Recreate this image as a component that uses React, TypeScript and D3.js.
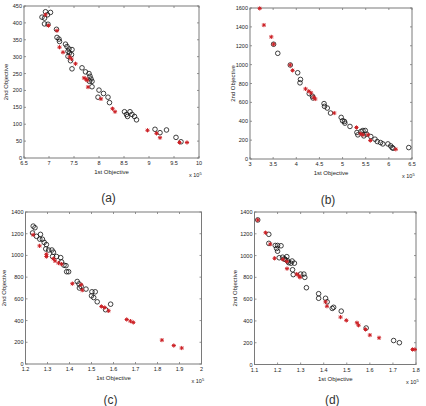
import React from "react";
import * as d3 from "d3";

// ---------- data ----------
const aCircles: [number, number][] = [
  [6.93, 433], [7.03, 431], [6.86, 417], [6.91, 414], [6.97, 424], [6.91, 397], [6.98, 396],
  [7.15, 381], [7.16, 357], [7.2, 352], [7.21, 345], [7.33, 337], [7.36, 330], [7.4, 323],
  [7.46, 321], [7.38, 316], [7.41, 311], [7.45, 306], [7.38, 301], [7.43, 288], [7.46, 264],
  [7.66, 267], [7.73, 255], [7.8, 250], [7.82, 242], [7.84, 234], [7.81, 227], [7.86, 227],
  [7.86, 211], [8.0, 201], [8.09, 191], [7.98, 180], [8.18, 180], [8.21, 164], [8.51, 137],
  [8.55, 129], [8.57, 123], [8.62, 137], [8.66, 129], [8.71, 123], [8.75, 113], [9.12, 85],
  [9.22, 75], [9.35, 83], [9.54, 61], [9.64, 48],
];
const aStars: [number, number][] = [
  [6.93, 424], [6.99, 392], [7.16, 377], [7.21, 328], [7.28, 313], [7.41, 299], [7.45, 293],
  [7.53, 279], [7.7, 237], [7.74, 234], [7.76, 230], [7.78, 210], [8.04, 175], [8.27, 146],
  [8.32, 137], [8.97, 82], [9.15, 73], [9.22, 60], [9.61, 46], [9.76, 46],
];

const bCircles: [number, number][] = [
  [3.51, 1216], [3.6, 1120], [3.87, 996], [4.03, 914], [4.09, 843], [4.08, 807], [4.28, 693],
  [4.35, 665], [4.36, 647], [4.6, 587], [4.61, 558], [4.67, 540], [4.74, 487], [4.97, 441],
  [5.0, 405], [5.05, 380], [5.04, 398], [5.16, 345], [5.31, 281], [5.33, 256], [5.4, 292],
  [5.44, 302], [5.49, 302], [5.46, 245], [5.52, 263], [5.61, 238], [5.7, 210], [5.75, 185],
  [5.82, 174], [5.87, 160], [5.98, 160], [6.04, 139], [6.07, 121], [6.09, 114], [6.43, 121],
];
const bStars: [number, number][] = [
  [3.21, 1596], [3.3, 1419], [3.46, 1294], [3.51, 1216], [3.87, 996], [3.92, 939], [4.2, 743],
  [4.27, 718], [4.32, 700], [4.38, 654], [4.41, 636], [4.82, 487], [5.3, 334], [5.39, 267],
  [5.44, 256], [5.55, 256], [5.6, 196], [6.15, 103],
];

const cCircles: [number, number][] = [
  [1.235, 1270], [1.243, 1255], [1.232, 1207], [1.25, 1176], [1.268, 1194], [1.265, 1150],
  [1.277, 1149], [1.285, 1120], [1.295, 1100], [1.292, 1060], [1.305, 1050], [1.32, 1050],
  [1.327, 1030], [1.323, 990], [1.341, 990], [1.36, 980], [1.364, 940], [1.375, 910],
  [1.384, 906], [1.387, 850], [1.396, 850], [1.435, 760], [1.443, 738], [1.453, 714],
  [1.445, 700], [1.475, 690], [1.502, 665], [1.517, 665], [1.5, 628], [1.51, 612],
  [1.526, 573], [1.564, 500], [1.587, 551],
];
const cStars: [number, number][] = [
  [1.235, 1190], [1.264, 1088], [1.295, 1010], [1.295, 990], [1.327, 970], [1.334, 950],
  [1.35, 930], [1.364, 920], [1.413, 740], [1.453, 730], [1.458, 680], [1.545, 530],
  [1.56, 520], [1.578, 490], [1.66, 410], [1.677, 395], [1.69, 383], [1.82, 220],
  [1.874, 170], [1.91, 147],
];

const dCircles: [number, number][] = [
  [1.114, 1327], [1.162, 1195], [1.162, 1112], [1.19, 1093], [1.2, 1093], [1.196, 1065],
  [1.2, 1040], [1.215, 1090], [1.207, 980], [1.222, 985], [1.229, 970], [1.233, 965],
  [1.24, 990], [1.244, 950], [1.248, 935], [1.258, 930], [1.263, 950], [1.273, 930],
  [1.265, 870], [1.268, 825], [1.3, 830], [1.314, 830], [1.318, 800], [1.325, 705],
  [1.378, 650], [1.378, 608], [1.408, 608], [1.415, 575], [1.437, 515], [1.443, 525],
  [1.476, 490], [1.584, 335], [1.703, 220], [1.728, 200],
];
const dStars: [number, number][] = [
  [1.114, 1327], [1.148, 1210], [1.168, 1105], [1.187, 975], [1.223, 965], [1.24, 945],
  [1.241, 880], [1.283, 830], [1.292, 815], [1.297, 800], [1.408, 575], [1.414, 535],
  [1.473, 435], [1.498, 405], [1.544, 383], [1.551, 360], [1.581, 322], [1.6, 270],
  [1.64, 245], [1.785, 138], [1.795, 138],
];

const aXTicks = [6.5, 7, 7.5, 8, 8.5, 9, 9.5, 10];
const aYTicks = [0, 50, 100, 150, 200, 250, 300, 350, 400, 450];
const bXTicks = [3, 3.5, 4, 4.5, 5, 5.5, 6, 6.5];
const bYTicks = [0, 200, 400, 600, 800, 1000, 1200, 1400, 1600];
const cXTicks = [1.2, 1.3, 1.4, 1.5, 1.6, 1.7, 1.8, 1.9, 2];
const cYTicks = [0, 200, 400, 600, 800, 1000, 1200, 1400];
const dXTicks = [1.1, 1.2, 1.3, 1.4, 1.5, 1.6, 1.7, 1.8];
const dYTicks = [0, 200, 400, 600, 800, 1000, 1200, 1400];

const captions = ["(a)", "(b)", "(c)", "(d)"];
const xLabel = "1st Objective";
const yLabel = "2nd Objective";

// ---------- layout ----------
type Cfg = {
  circles: [number, number][];
  stars: [number, number][];
  xTicks: number[];
  yTicks: number[];
  box: { l: number; r: number; t: number; b: number };
  yLabelX: number;
  caption: string;
  captionY: number;
};

const panels: Cfg[] = [
  { circles: aCircles, stars: aStars, xTicks: aXTicks, yTicks: aYTicks,
    box: { l: 24, r: 199, t: 6, b: 158 }, yLabelX: 8, caption: captions[0], captionY: 202 },
  { circles: bCircles, stars: bStars, xTicks: bXTicks, yTicks: bYTicks,
    box: { l: 250, r: 412, t: 8, b: 159 }, yLabelX: 235, caption: captions[1], captionY: 204 },
  { circles: cCircles, stars: cStars, xTicks: cXTicks, yTicks: cYTicks,
    box: { l: 25.5, r: 201.5, t: 212, b: 364 }, yLabelX: 6, caption: captions[2], captionY: 404 },
  { circles: dCircles, stars: dStars, xTicks: dXTicks, yTicks: dYTicks,
    box: { l: 254.5, r: 416, t: 212, b: 364.5 }, yLabelX: 237, caption: captions[3], captionY: 404 },
];

const AXIS = "#7a7a7a";
const RED = "#cc1f24";
const FONT = "'Liberation Sans', Arial, sans-serif";

function fmt(v: number) {
  return String(+v.toFixed(2));
}

function starPath(cx: number, cy: number, r: number) {
  const d = r * 0.72;
  return `M${cx - r},${cy}L${cx + r},${cy}M${cx},${cy - r}L${cx},${cy + r}` +
    `M${cx - d},${cy - d}L${cx + d},${cy + d}M${cx - d},${cy + d}L${cx + d},${cy - d}`;
}

function Panel({ cfg }: { cfg: Cfg }) {
  const { l, r, t, b } = cfg.box;
  const x = d3.scaleLinear().domain([cfg.xTicks[0], cfg.xTicks[cfg.xTicks.length - 1]]).range([l, r]);
  const y = d3.scaleLinear().domain([cfg.yTicks[0], cfg.yTicks[cfg.yTicks.length - 1]]).range([b, t]);
  const midX = (l + r) / 2;
  const midY = (t + b) / 2;
  return (
    <g>
      <rect x={l} y={t} width={r - l} height={b - t} fill="white" stroke={AXIS} strokeWidth={1} />
      {cfg.xTicks.map((v, i) => (
        <g key={"xt" + i}>
          <line x1={x(v)} x2={x(v)} y1={b} y2={b - 2} stroke={AXIS} strokeWidth={0.8} />
          <line x1={x(v)} x2={x(v)} y1={t} y2={t + 2} stroke={AXIS} strokeWidth={0.8} />
          <text x={x(v)} y={b + 7} fontSize={5.5} textAnchor="middle" fill="#222" fontFamily={FONT}>
            {fmt(v)}
          </text>
        </g>
      ))}
      {cfg.yTicks.map((v, i) => (
        <g key={"yt" + i}>
          <line x1={l} x2={l + 2} y1={y(v)} y2={y(v)} stroke={AXIS} strokeWidth={0.8} />
          <line x1={r} x2={r - 2} y1={y(v)} y2={y(v)} stroke={AXIS} strokeWidth={0.8} />
          <text x={l - 2} y={y(v) + 2} fontSize={5.5} textAnchor="end" fill="#222" fontFamily={FONT}>
            {fmt(v)}
          </text>
        </g>
      ))}
      <text x={midX} y={b + 16} fontSize={6} textAnchor="middle" fill="#222" fontFamily={FONT}>
        {xLabel}
      </text>
      <text x={r - 10} y={b + 19} fontSize={5.5} fill="#222" fontFamily={FONT}>
        x 10
        <tspan fontSize={4} dy={-2}>5</tspan>
      </text>
      <text
        transform={`translate(${cfg.yLabelX},${midY}) rotate(-90)`}
        fontSize={6}
        textAnchor="middle"
        fill="#222"
        fontFamily={FONT}
      >
        {yLabel}
      </text>
      {cfg.circles.map((p, i) => (
        <circle key={"c" + i} cx={x(p[0])} cy={y(p[1])} r={2.3} fill="none" stroke="#111" strokeWidth={0.8} />
      ))}
      {cfg.stars.map((p, i) => (
        <path key={"s" + i} d={starPath(x(p[0]), y(p[1]), 2.1)} stroke={RED} strokeWidth={1} fill="none" />
      ))}
      <text x={midX - 3} y={cfg.captionY} fontSize={12} textAnchor="middle" fill="#333" fontFamily={FONT}>
        {cfg.caption}
      </text>
    </g>
  );
}

export default function App() {
  return (
    <svg
      width={426}
      height={406}
      style={{ position: "absolute", left: 0, top: 0, background: "white" }}
    >
      <rect x={0} y={0} width={426} height={406} fill="white" />
      {panels.map((p, i) => (
        <Panel key={i} cfg={p} />
      ))}
    </svg>
  );
}
